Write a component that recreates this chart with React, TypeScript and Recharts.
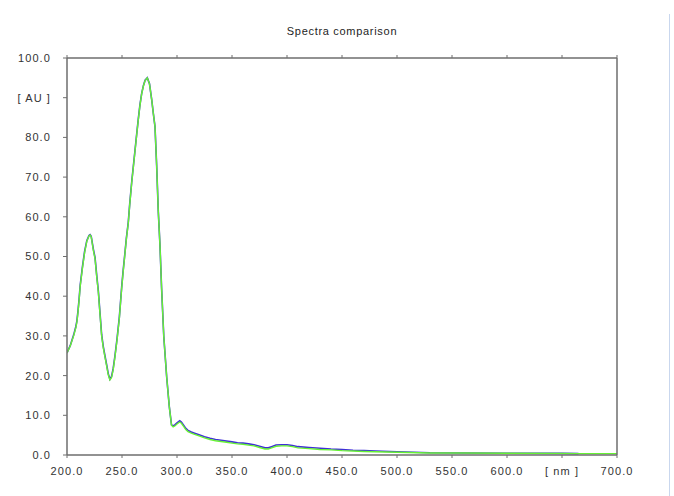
import React from "react";
import { LineChart, Line, XAxis, YAxis } from "recharts";

// wavelength [nm]
const wavelengths = [
  200, 203, 206, 208, 209, 210, 211, 212, 214, 216, 218, 220, 221, 222, 224, 225.5, 227, 228.5, 230,
  231.5, 233, 234.5, 236, 237.5, 239, 240.5, 242, 243.6, 245.5, 247.6, 249.7, 251, 252.7, 254, 255.7,
  257, 258.8, 260.3, 261.8, 263.3, 264.8, 266.3, 267.9, 269.5, 271, 273, 275, 277, 278.5, 280, 281.5,
  283, 284.5, 286, 288, 290.6, 293, 295, 296.5, 298, 300, 302.5, 304, 306, 308, 310, 313, 316, 320,
  325, 330, 335, 340, 345, 350, 355, 360, 365, 370, 375, 380, 383, 386, 390, 395, 400, 405, 410, 420,
  430, 440, 450, 460, 470, 480, 500, 530, 560, 600, 650, 665, 700,
];

// green spectrum [AU]
const greenValues = [
  25.7, 27.5, 30, 32, 33.5, 36, 39, 42.5, 47, 51, 53.8, 55.2, 55.4, 55, 51.5, 49.4, 45, 41, 35.5,
  30, 27, 24.7, 22.5, 20.2, 18.9, 19.5, 21.5, 24.7, 29, 34.5, 42, 46, 50.8, 54.5, 58.4,
  63, 68.5, 72.5, 76.5, 80.5, 84.4, 88, 91, 93, 94.3, 95, 93.5, 89.5, 86, 82.7, 73,
  61.3, 53, 42, 29.8, 19.7, 12.2, 7.5, 7.1, 7.3, 7.8, 8.3, 8.0, 7.2, 6.4, 5.9, 5.5, 5.2, 4.8,
  4.3, 3.9, 3.6, 3.4, 3.2, 3.0, 2.8, 2.7, 2.5, 2.3, 1.9, 1.5, 1.5, 1.8, 2.2, 2.3, 2.3, 2.1, 1.8, 1.6,
  1.4, 1.3, 1.1, 1.0, 0.9, 0.8, 0.7, 0.5, 0.5, 0.45, 0.4, 0.35, 0.35,
];

// blue spectrum [AU] (ends at 665 nm)
const blueValues = [
  25.7, 27.6, 30.2, 32.3, 33.8, 36.3, 39.3, 42.8, 47.3, 51.3, 54, 55.3, 55.5, 55.1, 51.8, 49.7, 45.3, 41.3, 35.8,
  30.3, 27.3, 25, 22.8, 20.5, 19.1, 19.8, 21.8, 25, 29.3, 34.8, 42.3, 46.3, 51, 54.7, 58.6,
  63.2, 68.7, 72.7, 76.7, 80.7, 84.6, 88.2, 91.1, 93.1, 94.4, 95, 93.5, 89.5, 86, 82.7, 73,
  61.3, 53, 42, 29.8, 19.7, 12.2, 7.6, 7.3, 7.6, 8.1, 8.6, 8.3, 7.5, 6.7, 6.2, 5.8, 5.5, 5.1,
  4.6, 4.2, 3.9, 3.7, 3.5, 3.3, 3.1, 3.0, 2.8, 2.6, 2.2, 1.8, 1.8, 2.1, 2.5, 2.6, 2.6, 2.4, 2.1, 1.9,
  1.7, 1.5, 1.4, 1.2, 1.1, 1.0, 0.8, 0.55, 0.5, 0.45, 0.4, 0.35, null,
];

const xTicks = [200, 250, 300, 350, 400, 450, 500, 550, 600, 650, 700];
const yTicks = [0, 10, 20, 30, 40, 50, 60, 70, 80, 90, 100];
const xUnitLabel = "[ nm ]";
const yUnitLabel = "[ AU ]";
const title = "Spectra comparison";

const data = wavelengths.map((wl, i) => ({ wl, green: greenValues[i], blue: blueValues[i] }));

const FONT = "'Liberation Sans', Arial, sans-serif";
const AXIS = "#6e6e6e";
const TEXT = "#333333";

const fmtX = (v: number) => (v === 650 ? xUnitLabel : v.toFixed(1));
const fmtY = (v: number) => (v === 90 ? yUnitLabel : v.toFixed(1));

const RightTick = (props: any) => {
  const { x, y, payload } = props;
  return (
    <text
      x={x + 28}
      y={y}
      dy="0.355em"
      textAnchor="middle"
      fontSize={11}
      fontFamily={FONT}
      fill={TEXT}
      letterSpacing={1.1}
    >
      {fmtY(payload.value)}
    </text>
  );
};

export default function App() {
  const tickStyle = { fontSize: 11, fontFamily: FONT, fill: TEXT, letterSpacing: 1.1 };
  return (
    <div style={{ position: "absolute", left: 0, top: 0, width: 674, height: 496, background: "#fff" }}>
      <div
        style={{
          position: "absolute",
          left: 242,
          top: 25,
          width: 200,
          textAlign: "center",
          fontSize: 11,
          lineHeight: "13px",
          letterSpacing: 0.7,
          fontFamily: FONT,
          color: "#1e1e1e",
        }}
      >
        {title}
      </div>
      <div
        style={{
          position: "absolute",
          left: 669,
          top: 14,
          width: 1,
          height: 482,
          background: "#c9d7ee",
        }}
      />
      <LineChart width={674} height={496} data={data} margin={{ top: 50, right: 0, bottom: 11, left: 0 }}>
        <XAxis
          xAxisId="b"
          dataKey="wl"
          type="number"
          domain={[200, 700]}
          ticks={xTicks}
          tickFormatter={fmtX}
          tickSize={3}
          tickMargin={9}
          height={30}
          stroke={AXIS}
          axisLine={{ stroke: AXIS, strokeWidth: 1.5 }}
          tickLine={{ stroke: AXIS }}
          tick={tickStyle}
          interval={0}
          allowDataOverflow
        />
        <XAxis
          xAxisId="t"
          orientation="top"
          dataKey="wl"
          type="number"
          domain={[200, 700]}
          ticks={xTicks}
          tickFormatter={() => ""}
          tickSize={3}
          height={8}
          stroke={AXIS}
          axisLine={{ stroke: AXIS, strokeWidth: 1.5 }}
          tickLine={{ stroke: AXIS }}
          tick={tickStyle}
          interval={0}
        />
        <YAxis
          yAxisId="l"
          domain={[0, 100]}
          ticks={yTicks}
          tickFormatter={fmtY}
          width={67}
          tickSize={4}
          tickMargin={12}
          stroke={AXIS}
          axisLine={{ stroke: AXIS, strokeWidth: 1.5 }}
          tickLine={{ stroke: AXIS }}
          tick={tickStyle}
          interval={0}
          allowDataOverflow
        />
        <YAxis
          yAxisId="r"
          orientation="right"
          domain={[0, 100]}
          ticks={yTicks}
          width={57}
          tickSize={4}
          tickMargin={2}
          stroke={AXIS}
          axisLine={{ stroke: AXIS, strokeWidth: 1.5 }}
          tickLine={{ stroke: AXIS }}
          tick={<RightTick />}
          interval={0}
        />
        <Line
          xAxisId="b"
          yAxisId="l"
          type="linear"
          dataKey="blue"
          stroke="#3f2fd6"
          strokeWidth={1.6}
          dot={false}
          connectNulls={false}
          isAnimationActive={false}
        />
        <Line
          xAxisId="b"
          yAxisId="l"
          type="linear"
          dataKey="green"
          stroke="#66f233"
          strokeWidth={1.4}
          dot={false}
          isAnimationActive={false}
        />
      </LineChart>
    </div>
  );
}
